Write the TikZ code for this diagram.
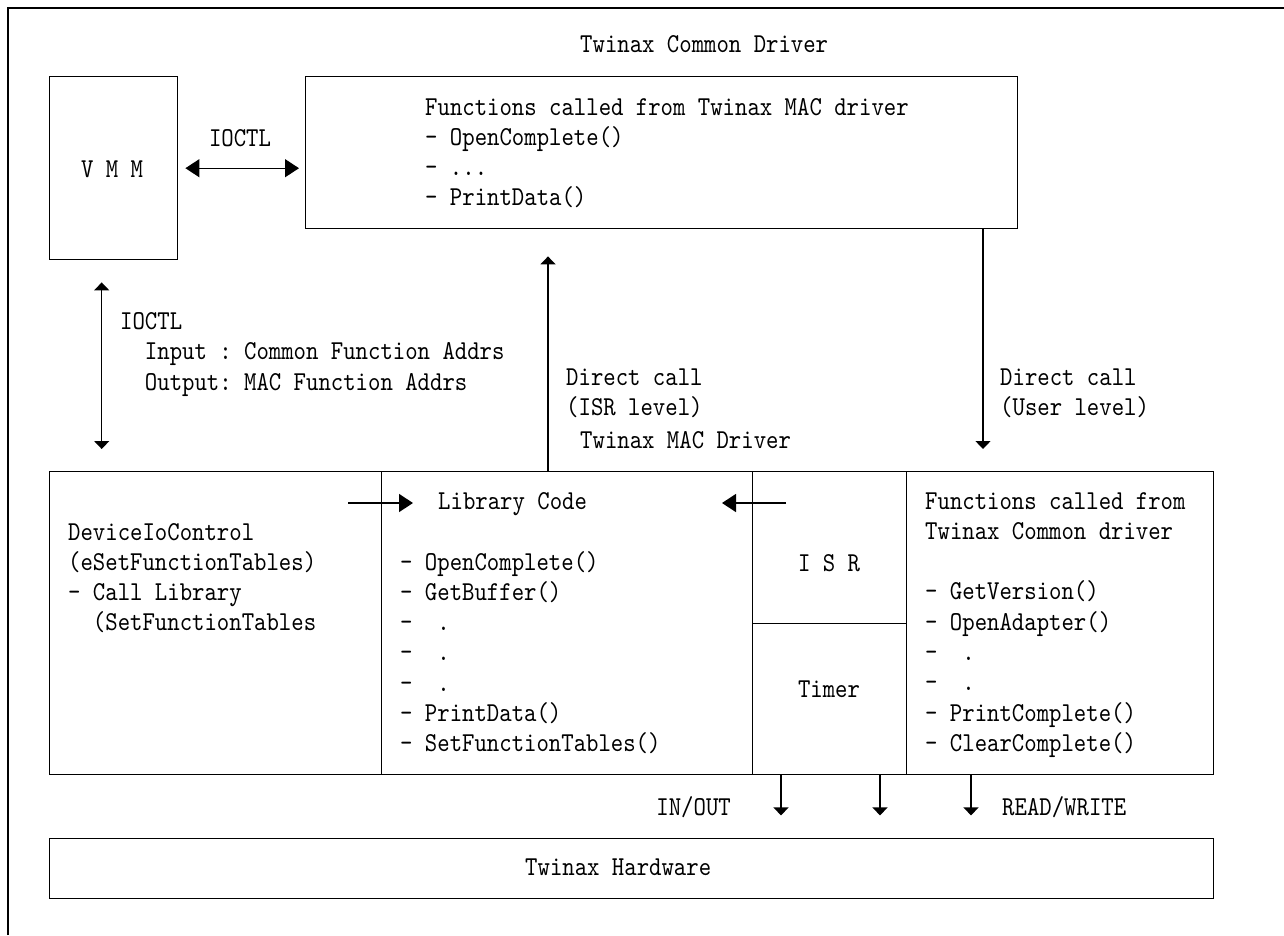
\documentclass[tikz,border=0pt]{standalone}
\usepackage{fontspec}
% typewriter face, narrowed so that tall glyphs keep a 12.4pt pitch
\setmonofont{lmmono10-regular.otf}[FakeStretch=0.865]
\usetikzlibrary{arrows.meta,calc}
% left-aligned block of lines whose baseline is that of its first line
\newcommand\tblk[1]{\begin{tabular}[t]{@{}l@{}}#1\end{tabular}}
\tikzset{
  box/.style={draw, line width=1.4pt, rectangle, inner sep=0pt, anchor=north west},
  txt/.style={inner sep=0pt, anchor=base west, font=\ttfamily\fontsize{27.3}{30.3}\selectfont},
  ctxt/.style={txt, anchor=base},
  conn/.style={line width=1.4pt},
  harrow/.style={-{Triangle[length=14pt,width=18pt]}},
  hboth/.style={{Triangle[length=14pt,width=18pt]}-{Triangle[length=14pt,width=18pt]}},
  varrow/.style={-{Triangle[length=8pt,width=15pt]}},
  vboth/.style={{Triangle[length=8pt,width=15pt]}-{Triangle[length=8pt,width=15pt]}},
}
\begin{document}
\begin{tikzpicture}[x=1pt,y=-1pt]
\useasboundingbox (0,0) rectangle (1284,935);
% outer frame
\draw[line width=2pt] (8,935) -- (8,8) -- (1284,8);

% boxes
\node[box, minimum width=128pt, minimum height=183pt] (vmm) at (49,76) {};
\node[box, minimum width=712pt, minimum height=152pt] (cdrv) at (305,76) {};
\node[box, minimum width=332pt, minimum height=303pt] (dev) at (49,471) {};
\node[box, minimum width=371pt, minimum height=303pt] (lib) at (381,471) {};
\node[box, minimum width=154pt, minimum height=152pt] (isr) at (752,471) {};
\node[box, minimum width=154pt, minimum height=151pt] (tmr) at (752,623) {};
\node[box, minimum width=307pt, minimum height=303pt] (mfn) at (906,471) {};
\node[box, minimum width=1164pt, minimum height=60pt] (hw) at (49,838) {};

% texts
\node[txt] (cdrvtitle) at (580,52) {Twinax Common Driver};
\node[ctxt] (vmmtxt) at (112,177) {V M M};
\node[ctxt] (ioctlh) at (240,146) {IOCTL};
\node[txt] (cdrvtxt) at (425,115) {\tblk{Functions called from Twinax MAC driver\\
  - OpenComplete()\\ - ...\\ - PrintData()}};
\node[txt] (ioctlv) at (120,329.5) {\tblk{IOCTL\\
  \phantom{--}Input : Common Function Addrs\\
  \phantom{--}Output: MAC Function Addrs}};
\node[txt] (isrcall) at (566,385) {\tblk{Direct call\\(ISR level)}};
\node[txt] (usrcall) at (1000,385) {\tblk{Direct call\\(User level)}};
\node[txt] (mactitle) at (580,448) {Twinax MAC Driver};
\node[txt] (devtxt) at (68,540) {\tblk{DeviceIoControl\\(eSetFunctionTables)\\
  - Call Library\\ \phantom{--}(SetFunctionTables}};
\node[txt] (libhead) at (438,509) {Library Code};
\node[txt] (libtxt) at (400,570) {\tblk{- OpenComplete()\\ - GetBuffer()\\
  -~~.\\ -~~.\\ -~~.\\ - PrintData()\\ - SetFunctionTables()}};
\node[ctxt] (isrtxt) at (829,571) {I S R};
\node[ctxt] (tmrtxt) at (829,697) {Timer};
\node[txt] (mfntxt) at (925,509) {\tblk{Functions called from\\Twinax Common driver\\ \\
  - GetVersion()\\ - OpenAdapter()\\ -~~.\\ -~~.\\ - PrintComplete()\\ - ClearComplete()}};
\node[txt, anchor=base east] (inout) at (731,815) {IN/OUT};
\node[txt] (rw) at (1002,815) {READ/WRITE};
\node[txt] (hwtxt) at (525,875) {Twinax Hardware};

% connectors
\draw[conn,hboth] ([xshift=7pt]vmm.east) -- ([xshift=-6pt]vmm.east -| cdrv.west);
\draw[conn,vboth] ($(vmm.south)+(-12,22)$) -- ($(vmm.south |- dev.north)+(-12,-22)$);
\draw[conn,varrow] ($(lib.north west)+(167,0)$) -- ($(lib.north west |- cdrv.south)+(167,27)$);
\draw[conn,varrow] ($(cdrv.south west)+(678,0)$) -- ($(mfn.north west)+(77,-22)$);
\draw[conn,harrow] ($(lib.north west)+(-33,32)$) -- ($(lib.north west)+(32,32)$);
\draw[conn,harrow] ($(isr.north west)+(34,32)$) -- ($(isr.north west)+(-30,32)$);
\draw[conn,varrow] ($(tmr.south west)+(29,0)$) -- ($(tmr.south west)+(29,40)$);
\draw[conn,varrow] ($(tmr.south west)+(128,0)$) -- ($(tmr.south west)+(128,40)$);
\draw[conn,varrow] ($(mfn.south west)+(65,0)$) -- ($(mfn.south west)+(65,40)$);
\end{tikzpicture}
\end{document}
